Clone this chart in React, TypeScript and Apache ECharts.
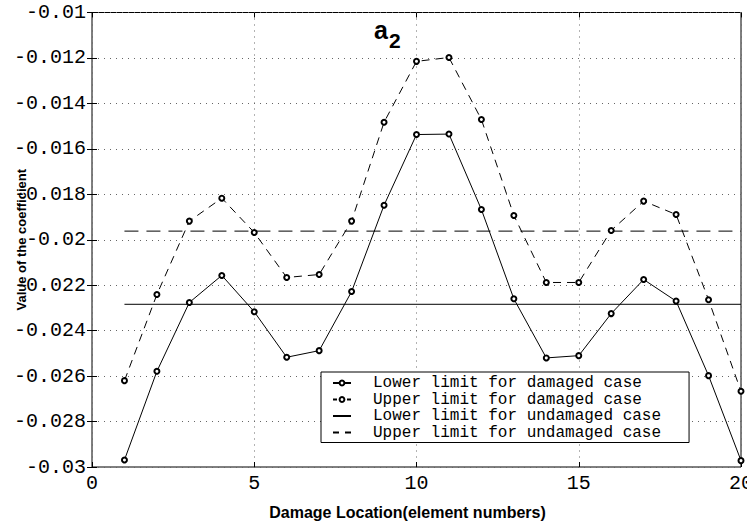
import React, { useEffect, useRef } from "react";
import * as echarts from "echarts";

const elements = [1, 2, 3, 4, 5, 6, 7, 8, 9, 10, 11, 12, 13, 14, 15, 16, 17, 18, 19, 20];
const lowerDamaged = [
  -0.02969, -0.02579, -0.02276, -0.02157, -0.02317, -0.02517, -0.02488, -0.02228, -0.01848, -0.01537,
  -0.01535, -0.01867, -0.0226, -0.0252, -0.0251, -0.02325, -0.02175, -0.0227, -0.02598, -0.02972,
];
const upperDamaged = [
  -0.0262, -0.02241, -0.01918, -0.01817, -0.01968, -0.02166, -0.02153, -0.01918, -0.01483, -0.01215,
  -0.01198, -0.01471, -0.01893, -0.02188, -0.02188, -0.01959, -0.0183, -0.01889, -0.02264, -0.02667,
];
const lowerUndamaged = -0.02284;
const upperUndamaged = -0.01962;
const seriesNames = [
  "Lower limit for damaged case",
  "Upper limit for damaged case",
  "Lower limit for undamaged case",
  "Upper limit for undamaged case",
];
const xTitle = "Damage Location(element numbers)";
const yTitle = "Value of the coefficient";

const mono = "'Liberation Mono', 'DejaVu Sans Mono', monospace";
const sans = "'Liberation Sans', Arial, sans-serif";

export default function App() {
  const ref = useRef<HTMLDivElement>(null);
  useEffect(() => {
    if (!ref.current) return;
    const chart = echarts.init(ref.current, undefined, { renderer: "svg" });
    const pts = (vals: number[]) => elements.map((e, i) => [e, vals[i]]);
    const flat = (v: number) => [
      [elements[0], v],
      [elements[elements.length - 1], v],
    ];
    const grid = {
      left: 92,
      right: 6,
      top: 12.5,
      bottom: 58,
      show: true,
      borderColor: "#000",
      borderWidth: 1,
      containLabel: false,
      outerBoundsMode: "none",
    };
    const split = { show: true, lineStyle: { color: "#666", type: [1, 5] as any, width: 1 } };
    const tick = { show: true, inside: true, length: 5, lineStyle: { color: "#000" } };
    const fmtY = (v: number) => parseFloat(v.toFixed(4)).toString();
    chart.setOption({
      animation: false,
      backgroundColor: "#fff",
      grid,
      graphic: [
        {
          type: "text",
          x: 374,
          y: 42,
          style: { text: "a", font: `bold 25px ${sans}`, fill: "#000", verticalAlign: "bottom" },
        },
        {
          type: "text",
          x: 389,
          y: 51,
          style: { text: "2", font: `bold 21px ${sans}`, fill: "#000", verticalAlign: "bottom" },
        },
      ],
      legend: {
        orient: "vertical",
        left: 321,
        top: 372,
        itemGap: 0.5,
        itemWidth: 18,
        itemHeight: 6,
        padding: [3, 28, 2, 11],
        borderColor: "#000",
        borderWidth: 1,
        backgroundColor: "#fff",
        textStyle: { fontFamily: mono, fontSize: 16, color: "#000", lineHeight: 16, padding: [0, 0, 0, 17] },
        data: [
          { name: seriesNames[0] },
          { name: seriesNames[1], lineStyle: { type: [4, 3] } },
          { name: seriesNames[2] },
          { name: seriesNames[3], lineStyle: { type: [6, 6] } },
        ],
      },
      xAxis: [
        {
          type: "value",
          min: 0,
          max: 20,
          interval: 5,
          name: xTitle,
          nameLocation: "middle",
          nameGap: 37,
          nameMoveOverlap: false,
          nameTextStyle: {
            fontFamily: sans,
            fontWeight: "bold",
            fontSize: 16,
            color: "#000",
            padding: [0, 18, 0, 0],
          },
          axisLine: { show: false },
          axisTick: tick,
          splitLine: split,
          axisLabel: { fontFamily: mono, fontSize: 20, color: "#000", margin: 6 },
        },
        {
          type: "value",
          position: "top",
          min: 0,
          max: 20,
          interval: 5,
          axisLine: { show: false },
          axisTick: tick,
          splitLine: { show: false },
          axisLabel: { show: false },
        },
      ],
      yAxis: [
        {
          type: "value",
          min: -0.03,
          max: -0.01,
          interval: 0.002,
          name: yTitle,
          nameLocation: "middle",
          nameGap: 64,
          nameMoveOverlap: false,
          nameTextStyle: { fontFamily: sans, fontWeight: "bold", fontSize: 13, color: "#000" },
          axisLine: { show: false },
          axisTick: tick,
          splitLine: split,
          axisLabel: { fontFamily: mono, fontSize: 20, color: "#000", margin: 6, formatter: fmtY },
        },
        {
          type: "value",
          position: "right",
          min: -0.03,
          max: -0.01,
          interval: 0.002,
          axisLine: { show: false },
          axisTick: tick,
          splitLine: { show: false },
          axisLabel: { show: false },
        },
      ],
      series: [
        {
          name: seriesNames[0],
          type: "line",
          data: pts(lowerDamaged),
          symbol: "emptyCircle",
          symbolSize: 5,
          lineStyle: { color: "#000", width: 1 },
          itemStyle: { color: "#000", borderColor: "#000", borderWidth: 1 },
        },
        {
          name: seriesNames[1],
          type: "line",
          data: pts(upperDamaged),
          symbol: "emptyCircle",
          symbolSize: 5,
          lineStyle: { color: "#000", width: 1, type: [8, 6] },
          itemStyle: { color: "#000", borderColor: "#000", borderWidth: 1 },
        },
        {
          name: seriesNames[2],
          type: "line",
          data: flat(lowerUndamaged),
          symbol: "circle",
          showSymbol: false,
          lineStyle: { color: "#000", width: 1 },
          itemStyle: { color: "transparent", borderColor: "transparent" },
        },
        {
          name: seriesNames[3],
          type: "line",
          data: flat(upperUndamaged),
          symbol: "circle",
          showSymbol: false,
          lineStyle: { color: "#000", width: 1, type: [14, 8] },
          itemStyle: { color: "transparent", borderColor: "transparent" },
        },
      ],
    });
    return () => chart.dispose();
  }, []);
  return <div ref={ref} style={{ width: 747, height: 525, position: "absolute", left: 0, top: 0 }} />;
}
